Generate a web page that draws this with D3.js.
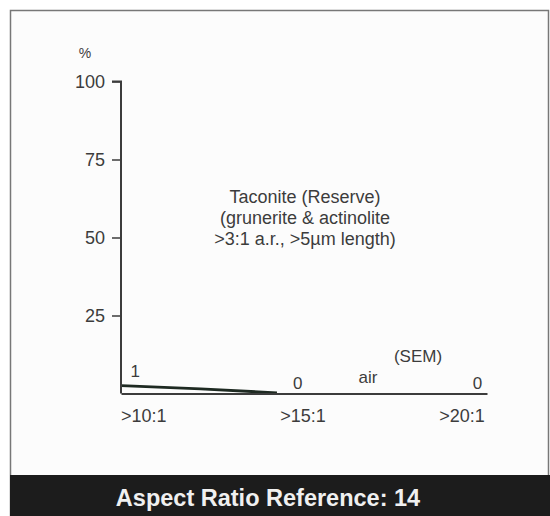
<!DOCTYPE html>
<html>
<head>
<meta charset="utf-8">
<script src="https://cdn.jsdelivr.net/npm/d3@7"></script>
<style>
  body { margin: 0; background: #fff; }
  svg text { font-family: "Liberation Sans", Arial, sans-serif; }
</style>
</head>
<body>
<div class="c_chart"></div>
<script>
/* DATA
------------------------------------------------------ */
const yTicks = [25, 50, 75, 100];
const xTickValues = [10, 15, 20];
const xTickLabels = [">10:1", ">15:1", ">20:1"];
// share (%) of fibres along the aspect ratio axis
const ratioPoints = [9.3, 11.8, 14.2];
const percentPoints = [2.5, 1.5, 0.2];
const countLabels = ["1", "0", "0"];
const countPos = [9.75, 14.85, 20.5];
const noteLines = ["Taconite (Reserve)", "(grunerite & actinolite", ">3:1 a.r., >5\u00b5m length)"];
const footer = "Aspect Ratio Reference: 14";

/* SVG
------------------------------------------------------ */
const width = 550, height = 516;
const svg = d3.select(".c_chart").append("svg")
  .attr("width", width).attr("height", height);

// panel
svg.append("rect")
  .attr("x", 10.5).attr("y", 10.5)
  .attr("width", 538).attr("height", 510)
  .attr("fill", "#fcfcfc")
  .attr("stroke", "#777").attr("stroke-width", 1.5);

svg.append("rect")
  .attr("x", 10).attr("y", 475)
  .attr("width", 540).attr("height", 41)
  .attr("fill", "#1c1c1c");

svg.append("text")
  .attr("x", 268).attr("y", 506)
  .attr("text-anchor", "middle")
  .attr("fill", "#f0f0f0")
  .attr("font-size", 23.5).attr("font-weight", "bold")
  .text(footer);

/* SCALES
------------------------------------------------------ */
const x = d3.scaleLinear().domain([9.3, 20.8]).range([121, 487]);
const y = d3.scaleLinear().domain([0, 100]).range([393.5, 81.5]);

const ink = "#3c3c3c";
const fs = 18;

// fibre share curve
const pts = ratioPoints.map((r, i) => ({r: r, v: percentPoints[i]}));
svg.append("path")
  .datum(pts)
  .attr("d", d3.line().x(d => x(d.r)).y(d => y(d.v)).curve(d3.curveMonotoneX))
  .attr("fill", "none")
  .attr("stroke", "#1e2a22").attr("stroke-width", 2.8);

// y axis
const yAxis = svg.append("g")
  .attr("transform", "translate(121,0)")
  .call(d3.axisLeft(y).tickValues(yTicks).tickSize(9).tickPadding(7));
yAxis.select(".domain").attr("stroke", ink).attr("stroke-width", 2)
  .attr("d", `M-9,${y(100)}H0V${y(0)}`);
yAxis.selectAll(".tick line").attr("stroke", ink).attr("stroke-width", 1.5);
yAxis.selectAll(".tick text").attr("fill", ink).attr("font-size", fs)
  .attr("font-family", "Liberation Sans, Arial, sans-serif");

svg.append("text")
  .attr("x", 85).attr("y", 58).attr("text-anchor", "middle")
  .attr("fill", ink).attr("font-size", 14).text("%");

// x axis
const xAxis = svg.append("g")
  .attr("transform", `translate(0,${y(0)})`)
  .call(d3.axisBottom(x).tickValues(xTickValues).tickSize(0).tickPadding(16)
    .tickFormat((d, i) => xTickLabels[i]));
xAxis.select(".domain").attr("stroke", ink).attr("stroke-width", 2);
xAxis.selectAll(".tick text").attr("fill", ink).attr("font-size", fs)
  .attr("font-family", "Liberation Sans, Arial, sans-serif");

// counts
svg.selectAll(".count")
  .data(countLabels)
  .join("text")
  .attr("class", "count")
  .attr("x", (d, i) => x(countPos[i]))
  .attr("y", (d, i) => i === 0 ? 377 : 389)
  .attr("text-anchor", "middle")
  .attr("fill", ink).attr("font-size", 17)
  .text(d => d);

svg.append("text").attr("x", 368).attr("y", 383).attr("text-anchor", "middle")
  .attr("fill", ink).attr("font-size", 17).text("air");
svg.append("text").attr("x", 418).attr("y", 362).attr("text-anchor", "middle")
  .attr("fill", ink).attr("font-size", 17).text("(SEM)");

// note
svg.selectAll(".note")
  .data(noteLines)
  .join("text")
  .attr("class", "note")
  .attr("x", 305)
  .attr("y", (d, i) => 203 + i * 21)
  .attr("text-anchor", "middle")
  .attr("fill", ink).attr("font-size", fs)
  .text(d => d);
</script>
</body>
</html>
